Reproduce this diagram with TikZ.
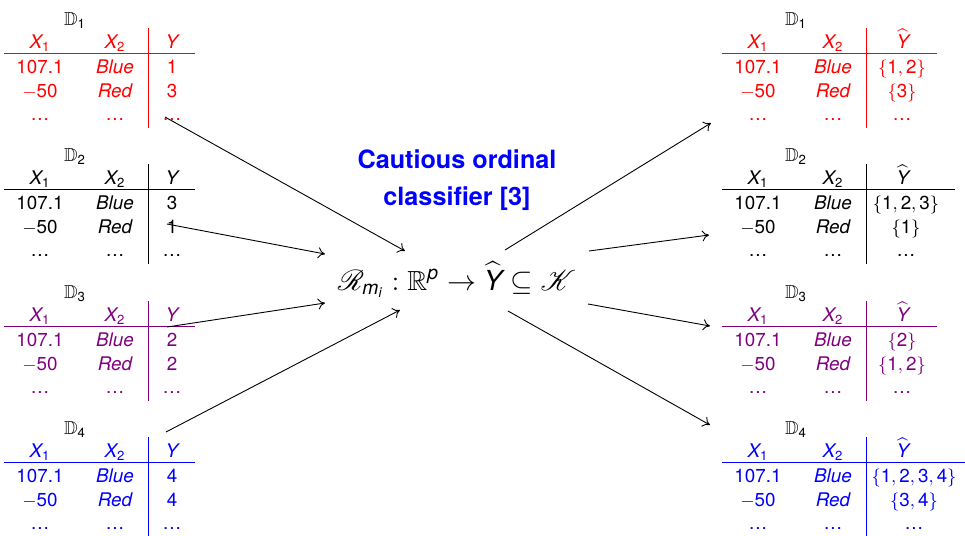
\documentclass[tikz,border=0pt]{standalone}
\usepackage{amsmath,amssymb,mathrsfs}
\usepackage{fontspec}
\setmainfont{TeX Gyre Heros}
\usetikzlibrary{arrows.meta}
\definecolor{tred}{rgb}{1,0,0}
\definecolor{tviolet}{rgb}{0.5,0,0.5}
\definecolor{tblue}{rgb}{0,0,1}
\newcommand{\tx}[1]{\text{#1}}
\tikzset{
  cell/.style={anchor=base, inner sep=0pt, font=\fontsize{9.4}{11}\selectfont},
  lab/.style={anchor=base, inner sep=0pt, font=\fontsize{9.4}{11}\selectfont, text=black},
  rulel/.style={line width=0.5pt},
  conn/.style={-{To[length=3.5pt,width=5.5pt]}, line width=0.45pt, black},
  ttl/.style={anchor=base, inner sep=0pt, text=tblue, font=\bfseries\fontsize{12.6}{15}\selectfont},
}
% left table: #1 name, #2 rule y, #3 colour, #4 index, #5 first Y, #6 second Y
\newcommand{\lefttab}[6]{%
\begin{scope}[shift={(0,#2)}]
  \node[lab] (#1lab) at (75,-28) {$\mathbb{D}_{\tx{#4}}$};
  \node[cell,text=#3] (#1h1) at (40,-5) {$\mathit{X}_{\tx{1}}$};
  \node[cell,text=#3] (#1h2) at (115,-5) {$\mathit{X}_{\tx{2}}$};
  \node[cell,text=#3] (#1h3) at (172,-5) {$\mathit{Y}$};
  \node[cell,text=#3] (#1a1) at (40,20) {107.1};
  \node[cell,text=#3] (#1a2) at (115,20) {\itshape Blue};
  \node[cell,text=#3] (#1a3) at (172,20) {#5};
  \node[cell,text=#3] (#1b1) at (40,44) {$-$50};
  \node[cell,text=#3] (#1b2) at (115,44) {\itshape Red};
  \node[cell,text=#3] (#1b3) at (172,44) {#6};
  \node[cell,text=#3] (#1c1) at (40,67) {\dots};
  \node[cell,text=#3] (#1c2) at (115,67) {\dots};
  \node[cell,text=#3] (#1c3) at (172,67) {\dots};
  \draw[#3,rulel] (4,0) -- (195,0);
  \draw[#3,rulel] (148,-25) -- (148,75);
\end{scope}}
% right table: #7 x of last column, #8 right end of rule
\newcommand{\righttab}[8]{%
\begin{scope}[shift={(0,#2)}]
  \node[lab] (#1lab) at (796,-28) {$\mathbb{D}_{\tx{#4}}$};
  \node[cell,text=#3] (#1h1) at (758,-5) {$\mathit{X}_{\tx{1}}$};
  \node[cell,text=#3] (#1h2) at (833,-5) {$\mathit{X}_{\tx{2}}$};
  \node[cell,text=#3] (#1h3) at (903,-5) {$\widehat{\mathit{Y}}$};
  \node[cell,text=#3] (#1a1) at (758,20) {107.1};
  \node[cell,text=#3] (#1a2) at (833,20) {\itshape Blue};
  \node[cell,text=#3] (#1a3) at (#7,20) {#5};
  \node[cell,text=#3] (#1b1) at (758,44) {$-$50};
  \node[cell,text=#3] (#1b2) at (833,44) {\itshape Red};
  \node[cell,text=#3] (#1b3) at (#7,44) {#6};
  \node[cell,text=#3] (#1c1) at (758,67) {\dots};
  \node[cell,text=#3] (#1c2) at (833,67) {\dots};
  \node[cell,text=#3] (#1c3) at (#7,67) {\dots};
  \draw[#3,rulel] (722,0) -- (#8,0);
  \draw[#3,rulel] (866,-25) -- (866,75);
\end{scope}}
\begin{document}
\begin{tikzpicture}[x=0.5pt,y=-0.5pt]
\useasboundingbox (0,0) rectangle (965,536);
\lefttab{L1}{53}{tred}{1}{1}{3}
\lefttab{L2}{189}{black}{2}{3}{1}
\lefttab{L3}{326}{tviolet}{3}{2}{2}
\lefttab{L4}{462}{tblue}{4}{4}{4}
\righttab{R1}{53}{tred}{1}{$\{\tx{1},\tx{2}\}$}{$\{\tx{3}\}$}{902}{937}
\righttab{R2}{189}{black}{2}{$\{\tx{1},\tx{2},\tx{3}\}$}{$\{\tx{1}\}$}{906}{955}
\righttab{R3}{326}{tviolet}{3}{$\{\tx{2}\}$}{$\{\tx{1},\tx{2}\}$}{902}{937}
\righttab{R4}{462}{tblue}{4}{$\{\tx{1},\tx{2},\tx{3},\tx{4}\}$}{$\{\tx{3},\tx{4}\}$}{914}{965}

\node[ttl] (t1) at (457,168) {Cautious ordinal};
\node[ttl] (t2) at (457,205) {classifier [3]};
\node[anchor=base, inner sep=0pt, font=\fontsize{13.8}{16}\selectfont] (f) at (457,290)
  {$\mathscr{R}_{\mathit{m}_{\mathit{i}}}:\mathbb{R}^{\mathit{p}}\rightarrow\widehat{\mathit{Y}}\subseteq\mathscr{K}$};

\coordinate (a1s) at (165,117); \coordinate (a1e) at (405,251);
\coordinate (a2s) at (167,224); \coordinate (a2e) at (325,254);
\coordinate (a3s) at (167,327); \coordinate (a3e) at (325,303);
\coordinate (a4s) at (166,432); \coordinate (a4e) at (400,310);
\coordinate (b1s) at (505,250); \coordinate (b1e) at (711,123);
\coordinate (b2s) at (589,251); \coordinate (b2e) at (709,235);
\coordinate (b3s) at (588,304); \coordinate (b3e) at (710,326);
\coordinate (b4s) at (508,311); \coordinate (b4e) at (710,425);
\foreach \p in {a1,a2,a3,a4,b1,b2,b3,b4} \draw[conn] (\p s) -- (\p e);
\end{tikzpicture}
\end{document}
